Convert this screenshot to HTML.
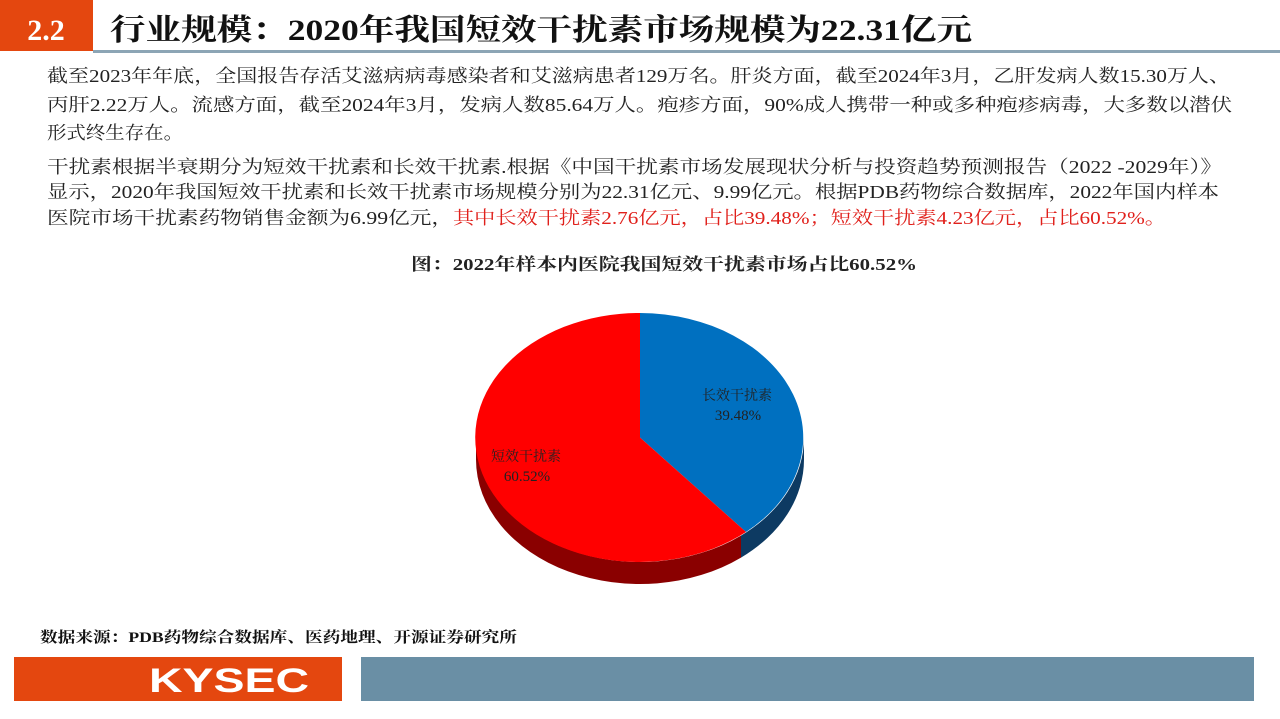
<!DOCTYPE html>
<html><head><meta charset="utf-8"><style>
html,body{margin:0;padding:0;background:#fff;width:1280px;height:719px;overflow:hidden}
svg{display:block}
text{font-family:"Liberation Serif","Noto Serif CJK SC",serif}
</style></head><body>
<svg width="1280" height="719" viewBox="0 0 1280 719" xmlns="http://www.w3.org/2000/svg">
<rect x="0" y="0" width="93" height="51" fill="#e4470f"/>
<text x="46" y="40" fill="#fff" font-size="30" font-weight="bold" text-anchor="middle">2.2</text>
<rect x="93" y="50" width="1187" height="3" fill="#8ca5b5"/>
<text x="110" y="40" font-size="30" font-weight="bold" fill="#111" textLength="862" lengthAdjust="spacingAndGlyphs">行业规模：2020年我国短效干扰素市场规模为22.31亿元</text>

<g font-size="18" fill="#222">
<text x="47" y="82" textLength="1183" lengthAdjust="spacingAndGlyphs">截至2023年年底，全国报告存活艾滋病病毒感染者和艾滋病患者129万名。肝炎方面，截至2024年3月，乙肝发病人数15.30万人、</text>
<text x="47" y="111" textLength="1185" lengthAdjust="spacingAndGlyphs">丙肝2.22万人。流感方面，截至2024年3月，发病人数85.64万人。疱疹方面，90%成人携带一种或多种疱疹病毒，大多数以潜伏</text>
<text x="47" y="139" textLength="136" lengthAdjust="spacingAndGlyphs">形式终生存在。</text>
<text x="47" y="173" textLength="1175" lengthAdjust="spacingAndGlyphs">干扰素根据半衰期分为短效干扰素和长效干扰素.根据《中国干扰素市场发展现状分析与投资趋势预测报告（2022 -2029年）》</text>
<text x="47" y="198" textLength="1172" lengthAdjust="spacingAndGlyphs">显示，2020年我国短效干扰素和长效干扰素市场规模分别为22.31亿元、9.99亿元。根据PDB药物综合数据库，2022年国内样本</text>
<text x="47" y="224" textLength="406" lengthAdjust="spacingAndGlyphs">医院市场干扰素药物销售金额为6.99亿元，</text>
<text x="453" y="224" fill="#e0201b" textLength="713" lengthAdjust="spacingAndGlyphs">其中长效干扰素2.76亿元，占比39.48%；短效干扰素4.23亿元，占比60.52%。</text>
</g>
<text x="411" y="270" font-size="17" font-weight="bold" fill="#222" textLength="506" lengthAdjust="spacingAndGlyphs">图：2022年样本内医院我国短效干扰素市场占比60.52%</text>

<g>
<path d="M476,437.5 A164,124.5 0 0 0 741,535.6 L741,557.6 A164,124.5 0 0 1 476,459.5 Z" fill="#8a0000"/>
<path d="M741,535.6 A164,124.5 0 0 0 804,437.5 L804,459.5 A164,124.5 0 0 1 741,557.6 Z" fill="#0d3a62"/>
<path d="M640,437.5 L640,313 A164,124.5 0 0 1 746,532 Z" fill="#0070c0"/>
<path d="M640,437.5 L746,532 A164,124.5 0 1 1 640,313 Z" fill="#ff0000"/>
</g>
<text x="737" y="400" font-size="14" fill="#222" text-anchor="middle">长效干扰素</text>
<text x="738" y="420" font-size="15" fill="#222" text-anchor="middle">39.48%</text>
<text x="526" y="461" font-size="14" fill="#222" text-anchor="middle">短效干扰素</text>
<text x="527" y="481" font-size="15" fill="#222" text-anchor="middle">60.52%</text>

<text x="40" y="642" font-size="15" font-weight="bold" fill="#111" textLength="477" lengthAdjust="spacingAndGlyphs">数据来源：PDB药物综合数据库、医药地理、开源证券研究所</text>

<rect x="14" y="657" width="328" height="44" fill="#e4470f"/>
<text x="229" y="692" font-size="34" font-weight="bold" fill="#fff" text-anchor="middle" style="font-family:'Liberation Sans',sans-serif" textLength="160" lengthAdjust="spacingAndGlyphs">KYSEC</text>
<rect x="361" y="657" width="893" height="44" fill="#6a8fa5"/>
</svg>
</body></html>
